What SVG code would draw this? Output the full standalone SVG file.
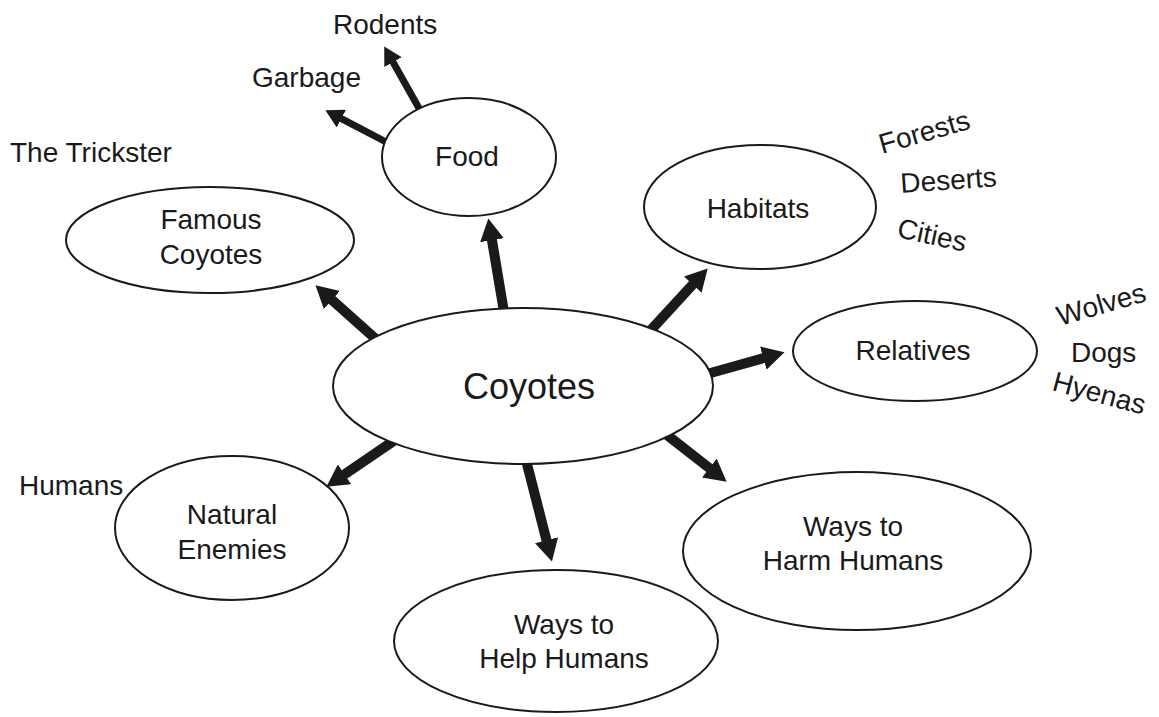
<svg xmlns="http://www.w3.org/2000/svg" width="1159" height="717" viewBox="0 0 1159 717">
<style>
text{font-family:"Liberation Sans",Arial,sans-serif;font-size:28px;fill:#1a1a1a}
.c{text-anchor:middle}
.node ellipse{fill:#fff;stroke:#1a1a1a;stroke-width:2}
.thick{stroke:#1a1a1a;stroke-width:10;fill:none}
.thin{stroke:#1a1a1a;stroke-width:7;fill:none}
</style>
<defs>
<marker id="hb" viewBox="0 0 22 24" markerWidth="22" markerHeight="24" refX="0.5" refY="12" orient="auto" markerUnits="userSpaceOnUse"><path d="M0,0 L22,12 L0,24 z" fill="#1a1a1a"/></marker>
<marker id="hs" viewBox="0 0 18 20" markerWidth="18" markerHeight="20" refX="0.5" refY="10" orient="auto" markerUnits="userSpaceOnUse"><path d="M0,0 L18,10 L0,20 z" fill="#1a1a1a"/></marker>
</defs>
<rect width="1159" height="717" fill="#fff"/>
<g id="connectors">
<line class="thick" x1="504" y1="312" x2="491.9" y2="239.7" marker-end="url(#hb)"/>
<line class="thin" x1="420" y1="110" x2="392.8" y2="61.7" marker-end="url(#hs)"/>
<line class="thin" x1="388" y1="143" x2="340.9" y2="118.4" marker-end="url(#hs)"/>
<line class="thick" x1="378" y1="341" x2="331.5" y2="299.6" marker-end="url(#hb)"/>
<line class="thick" x1="650" y1="331" x2="693.1" y2="284.2" marker-end="url(#hb)"/>
<line class="thick" x1="707" y1="374" x2="763.8" y2="358" marker-end="url(#hb)"/>
<line class="thick" x1="667" y1="435" x2="709.7" y2="468.4" marker-end="url(#hb)"/>
<line class="thick" x1="526" y1="460" x2="546.6" y2="540.7" marker-end="url(#hb)"/>
<line class="thick" x1="395" y1="440" x2="344.2" y2="474.6" marker-end="url(#hb)"/>
</g>
<g id="coyotes" class="node"><ellipse cx="523" cy="386" rx="190" ry="78"/><text class="c" x="529" y="399" style="font-size:36px">Coyotes</text></g>
<g id="food" class="node"><ellipse cx="469" cy="157" rx="87" ry="59"/><text class="c" x="467" y="166">Food</text></g>
<g id="famous" class="node"><ellipse cx="210" cy="240" rx="144" ry="53"/><text class="c" x="211" y="229">Famous</text><text class="c" x="211" y="264">Coyotes</text></g>
<g id="habitats" class="node"><ellipse cx="760" cy="207" rx="116" ry="62"/><text class="c" x="758" y="218">Habitats</text></g>
<g id="relatives" class="node"><ellipse cx="915" cy="351" rx="122" ry="50"/><text class="c" x="913" y="360">Relatives</text></g>
<g id="enemies" class="node"><ellipse cx="232" cy="528" rx="117" ry="72"/><text class="c" x="232" y="524">Natural</text><text class="c" x="232" y="559">Enemies</text></g>
<g id="help" class="node"><ellipse cx="556" cy="641" rx="162" ry="71"/><text class="c" x="564" y="634">Ways to</text><text class="c" x="564" y="668">Help Humans</text></g>
<g id="harm" class="node"><ellipse cx="857" cy="551" rx="174" ry="79"/><text class="c" x="853" y="536">Ways to</text><text class="c" x="853" y="570">Harm Humans</text></g>
<g id="labels">
<text x="333" y="34">Rodents</text>
<text x="252" y="87">Garbage</text>
<text x="10" y="162">The Trickster</text>
<text x="19" y="495">Humans</text>
<text transform="translate(882,154) rotate(-16)">Forests</text>
<text transform="translate(901,193) rotate(-4)">Deserts</text>
<text transform="translate(896,237) rotate(12)">Cities</text>
<text transform="translate(1060,326) rotate(-16)">Wolves</text>
<text x="1071" y="362">Dogs</text>
<text transform="translate(1051,390) rotate(15)">Hyenas</text>
</g>
</svg>
